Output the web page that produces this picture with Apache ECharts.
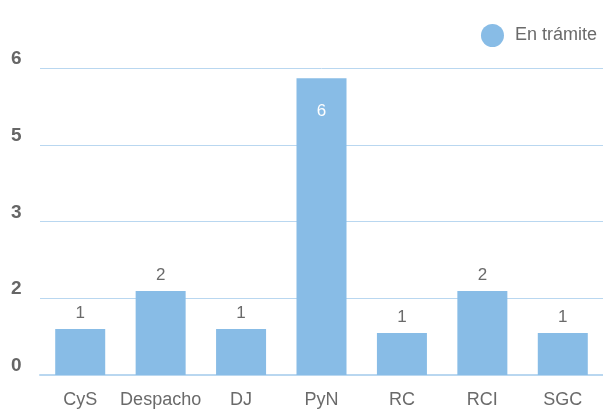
<!DOCTYPE html>
<html><head><meta charset="utf-8">
<script src="https://cdn.jsdelivr.net/npm/echarts@6/dist/echarts.min.js"></script>
<style>html,body{margin:0;padding:0;background:#fff}#c{width:603px;height:409px}</style>
</head><body><div id="c"></div>
<script>
const categories = ["CyS","Despacho","DJ","PyN","RC","RCI","SGC"];
const values = [0.90, 1.64, 0.90, 5.80, 0.82, 1.64, 0.82];
const seriesName = "En trámite";
const yTicks = [0, 1.5, 3, 4.5, 6];

const chart = echarts.init(document.getElementById('c'));
chart.setOption({
  animation: false,
  legend: {
    right: 1, top: 19, icon: 'circle', itemWidth: 23, itemHeight: 23, itemGap: 6,
    textStyle: { color: '#6a6a6a', fontSize: 18, padding: [0, 0, 0, 6], fontFamily: 'Liberation Sans, Arial' },
    data: [seriesName]
  },
  grid: { left: 40, width: 566, top: 68, bottom: 34, containLabel: false },
  xAxis: {
    type: 'category', data: categories,
    axisLine: { lineStyle: { color: '#b9d7f0', width: 2 } },
    axisTick: { show: false },
    axisLabel: { interval: 0, color: '#6a6a6a', fontSize: 18, margin: 16, fontFamily: 'Liberation Sans, Arial' }
  },
  yAxis: {
    type: 'value', min: 0, max: 6, interval: 1.5,
    axisLine: { show: false }, axisTick: { show: false },
    splitLine: { lineStyle: { color: '#b9d7f0', width: 1 } },
    axisLabel: {
      color: '#666', fontSize: 19, fontWeight: 'bold', align: 'left', margin: 29,
      verticalAlign: 'bottom', lineHeight: 18, fontFamily: 'Liberation Sans, Arial',
      formatter: v => String(Math.round(v))
    }
  },
  series: [{
    name: seriesName, type: 'bar', barWidth: 50,
    itemStyle: { color: '#88bce6' },
    label: {
      show: true, position: 'top', distance: 7, color: '#6a6a6a', fontSize: 17,
      fontFamily: 'Liberation Sans, Arial',
      formatter: p => String(Math.round(p.value))
    },
    data: values.map((v, i) => v > 3 ? {
      value: v,
      label: { position: 'insideTop', distance: 25, color: '#fff' }
    } : v)
  }]
});
</script></body></html>
